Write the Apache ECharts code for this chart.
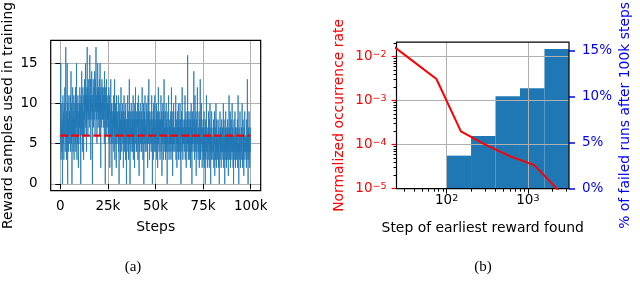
<!DOCTYPE html>
<html><head><meta charset="utf-8">
<script src="https://cdn.jsdelivr.net/npm/echarts@6/dist/echarts.min.js"></script>
<style>html,body{margin:0;padding:0;background:#fff}#c{width:640px;height:296px}</style>
</head><body><div id="c"></div>
<script>
// ---------- (a) reward samples used in training ----------
const stepSize = 125;
const rewardSamples = [
  5,9,15,3,7,6,10,4,8,0,6,11,5,7,9,3,10,6,8,12,
  7,4,10,17,6,8,3,9,5,15,7,0,10,6,8,4,11,7,5,9,
  8,6,11,4,9,14,7,5,10,0,8,6,12,7,4,9,6,11,3,8,
  6,10,5,8,12,4,9,7,15,6,3,10,8,5,11,7,2,9,6,10,
  9,7,12,5,10,8,0,11,6,9,14,7,10,4,8,12,6,9,3,11,
  10,8,13,6,11,9,15,7,12,10,4,11,8,17,9,12,6,10,13,8,
  11,9,7,12,16,10,8,13,3,11,9,12,14,8,10,0,11,9,13,7,
  9,12,10,8,14,11,6,13,9,12,17,10,8,11,5,12,9,15,10,7,
  12,8,11,9,13,6,10,15,8,11,2,12,9,10,7,13,11,8,12,9,
  8,11,7,12,10,5,14,9,11,0,8,12,7,10,13,6,9,11,8,10,
  7,10,6,9,12,5,8,11,2,7,9,6,13,8,5,10,7,1,9,6,
  8,5,10,7,11,4,9,6,13,3,8,7,10,5,9,2,11,6,8,7,
  6,9,5,8,11,4,7,0,9,6,10,5,8,3,7,12,6,9,4,7,
  8,6,10,5,7,2,9,6,11,4,8,7,5,9,3,10,6,8,0,7,
  5,8,6,11,4,7,9,3,8,6,13,5,7,0,9,6,8,4,10,6,
  7,5,9,4,8,6,11,3,7,9,5,8,2,10,6,7,12,5,8,4,
  6,9,4,8,7,10,3,6,11,5,8,1,7,9,4,6,10,7,5,8,
  7,4,9,6,12,5,8,3,7,6,10,0,8,5,9,6,11,4,7,6,
  8,5,7,10,4,9,6,2,8,11,5,7,13,6,9,3,7,8,5,6,
  6,9,4,7,11,5,8,0,7,6,9,3,10,6,8,4,7,11,5,6,
  7,4,8,6,10,3,7,5,9,2,8,6,12,5,7,4,9,6,8,3,
  5,8,6,11,4,7,9,1,6,8,5,10,7,3,9,6,13,5,7,4,
  6,9,3,7,5,10,4,8,6,0,7,5,9,4,8,11,6,3,7,5,
  8,4,7,5,9,3,6,12,5,8,4,7,1,9,6,5,10,4,7,6,
  5,7,4,9,6,11,3,7,5,8,2,6,9,4,7,5,10,3,6,8,
  4,7,6,10,3,8,5,0,7,6,9,4,12,5,7,3,8,6,5,7,
  6,4,8,5,11,3,7,6,9,2,7,5,8,4,6,16,5,9,3,7,
  5,8,4,7,3,9,6,2,8,5,10,4,7,0,6,9,5,8,4,6,
  7,14,5,8,3,6,11,4,7,5,9,1,6,8,4,7,12,5,6,3,
  5,7,4,9,2,6,8,5,13,3,7,4,6,10,5,8,2,6,7,4,
  6,3,8,5,9,2,6,4,7,0,5,8,3,6,11,4,7,5,2,6,
  4,7,5,9,3,6,2,8,5,10,4,6,0,7,5,3,9,4,6,5,
  5,3,7,4,8,2,6,5,9,1,4,7,3,6,10,5,2,8,4,6,
  3,6,4,8,5,2,7,4,0,6,5,9,3,7,4,6,2,5,8,4,
  5,4,7,3,6,10,2,5,8,4,6,0,7,3,5,9,4,6,2,7,
  4,6,3,8,5,7,1,6,4,11,5,3,7,4,9,2,6,5,8,4,
  6,3,10,5,4,7,2,6,0,5,8,4,6,3,9,5,2,7,4,6,
  3,5,7,4,8,2,6,11,4,5,0,7,3,6,4,9,5,2,6,4,
  5,7,3,6,10,4,2,5,8,3,6,1,7,4,5,9,3,6,4,5,
  4,6,2,8,5,3,13,4,6,0,5,7,3,9,4,6,2,5,7,4
];
const meanSamples = 6;
const stepTicks = [0, 25000, 50000, 75000, 100000];
const sampleTicks = [0, 5, 10, 15];

// ---------- (b) earliest reward step ----------
const earliestStep   = [18.75, 37.5, 75, 150, 300, 600, 1200, 2400];
const occurrenceRate = [0.0217, 0.0082, 0.0031, 0.0002, 0.0001, 0.000055, 0.0000343, 0.000009];
const binEdges  = [100, 200, 400, 800, 1600, 3200];
const failedPct = [3.6, 5.73, 10.07, 10.95, 15.2];
const stepMajorTicks = [100, 1000];
const stepMinorTicks = [30,40,50,60,70,80,90,200,300,400,500,600,700,800,900,2000,3000];
const rateMajorTicks = [1e-5, 1e-4, 1e-3, 1e-2];
const rateMinorTicks = [2e-5,3e-5,4e-5,5e-5,6e-5,7e-5,8e-5,9e-5,
                        2e-4,3e-4,4e-4,5e-4,6e-4,7e-4,8e-4,9e-4,
                        2e-3,3e-3,4e-3,5e-3,6e-3,7e-3,8e-3,9e-3,2e-2];
const pctTicks = [0, 5, 10, 15];

const FONT = 'DejaVu Sans';
const FS = 13.5;
const NFS = 13.9;
const GRID = '#b0b0b0';

function pow10Label(color) {
  return {
    formatter: function (v) {
      const e = Math.round(Math.log10(v));
      const s = e < 0 ? '\u2212' + (-e) : String(e);
      return '{b|10}{s|' + s + '}';
    },
    rich: {
      b: { fontSize: FS, fontFamily: FONT, color: color, lineHeight: 14, padding: [5, 0, 0, 0], verticalAlign: 'bottom' },
      s: { fontSize: 9.5, fontFamily: FONT, color: color, lineHeight: 10, verticalAlign: 'top' }
    }
  };
}

const chart = echarts.init(document.getElementById('c'), null, { renderer: 'canvas' });

const barData = failedPct.map((p, i) => [binEdges[i], binEdges[i + 1], p]);

const option = {
  animation: false,
  textStyle: { fontFamily: FONT },
  grid: [
    { left: 50.7, top: 38.7, width: 210, height: 152, show: true, borderColor: '#000', borderWidth: 1.2, z: 8, backgroundColor: 'transparent' },
    { left: 396.5, top: 36.7, width: 172.5, height: 152, show: true, borderColor: '#000', borderWidth: 1.2, z: 8, backgroundColor: 'transparent' }
  ],
  xAxis: [
    {
      type: 'value', gridIndex: 0, min: -5040, max: 105250, position: 'bottom',
      axisLine: { show: false },
      axisTick: { show: true, customValues: stepTicks, length: 5, lineStyle: { color: '#000', width: 1 } },
      axisLabel: { customValues: stepTicks, margin: 9, fontSize: FS, color: '#000', fontFamily: FONT,
        formatter: v => v === 0 ? '0' : (v / 1000) + 'k' },
      splitLine: { show: true, lineStyle: { color: GRID, width: 1 } },
      name: 'Steps', nameLocation: 'middle', nameGap: 30,
      nameTextStyle: { fontSize: NFS, color: '#000', fontFamily: FONT }
    },
    {
      type: 'log', logBase: 10, gridIndex: 1, min: 24.2, max: 3208, z: 5, position: 'bottom', offset: 0,
      axisLine: { show: false },
      axisTick: { show: true, customValues: stepMajorTicks, length: 5, lineStyle: { color: '#000', width: 1 } },
      axisLabel: Object.assign({ customValues: stepMajorTicks, margin: 5, color: '#000' }, pow10Label('#000')),
      splitLine: { show: true, lineStyle: { color: GRID, width: 1 } },
      name: 'Step of earliest reward found', nameLocation: 'middle', nameGap: 33,
      nameTextStyle: { fontSize: NFS, color: '#000', fontFamily: FONT }
    },
    {
      type: 'log', logBase: 10, gridIndex: 1, min: 24.2, max: 3208, position: 'bottom', offset: 0,
      axisLine: { show: false },
      axisTick: { show: true, customValues: stepMinorTicks, length: 3, lineStyle: { color: '#000', width: 1 } },
      axisLabel: { show: false },
      splitLine: { show: false }
    }
  ],
  yAxis: [
    {
      type: 'value', gridIndex: 0, min: -0.85, max: 17.85, position: 'left',
      axisLine: { show: false },
      axisTick: { show: true, customValues: sampleTicks, length: 5, lineStyle: { color: '#000', width: 1 } },
      axisLabel: { customValues: sampleTicks, margin: 13, fontSize: FS, color: '#000', fontFamily: FONT },
      splitLine: { show: true, lineStyle: { color: GRID, width: 1 } },
      name: 'Reward samples used in training', nameLocation: 'middle', nameGap: 35, nameRotate: 90,
      nameTextStyle: { fontSize: NFS, color: '#000', fontFamily: FONT }
    },
    {
      type: 'log', logBase: 10, gridIndex: 1, position: 'left', offset: 0, min: 1e-5, max: 0.0213, z: 5,
      axisLine: { show: false },
      axisTick: { show: true, customValues: rateMajorTicks, length: 5, lineStyle: { color: '#ff0000', width: 1.2 } },
      axisLabel: Object.assign({ customValues: rateMajorTicks, margin: 10, color: '#ff0000' }, pow10Label('#ff0000')),
      splitLine: { show: true, lineStyle: { color: GRID, width: 1 } },
      name: 'Normalized occurrence rate', nameLocation: 'middle', nameGap: 50, nameRotate: 90,
      nameTextStyle: { fontSize: NFS, color: '#ff0000', fontFamily: FONT }
    },
    {
      type: 'value', gridIndex: 1, position: 'right', offset: 0, min: 0, max: 15.96,
      axisLine: { show: false },
      axisTick: { show: true, customValues: pctTicks, length: 6, lineStyle: { color: '#0000ff', width: 1.5 } },
      axisLabel: { customValues: pctTicks, margin: 13, fontSize: FS, color: '#0000ff', fontFamily: FONT, formatter: '{value}%' },
      splitLine: { show: false },
      name: '% of failed runs after 100k steps', nameLocation: 'middle', nameGap: 49, nameRotate: 90,
      nameTextStyle: { fontSize: NFS, color: '#0000ff', fontFamily: FONT }
    },
    {
      type: 'log', logBase: 10, gridIndex: 1, position: 'left', offset: 0, min: 1e-5, max: 0.0213,
      axisLine: { show: false },
      axisTick: { show: true, customValues: rateMinorTicks, length: 3, lineStyle: { color: '#000', width: 1 } },
      axisLabel: { show: false },
      splitLine: { show: false }
    }
  ],
  series: [
    {
      type: 'line', xAxisIndex: 0, yAxisIndex: 0, z: 2,
      data: rewardSamples.map((v, i) => [i * stepSize, v]),
      symbol: 'none', silent: true,
      lineStyle: { color: '#1f77b4', width: 1, opacity: 0.8 }
    },
    {
      type: 'line', xAxisIndex: 0, yAxisIndex: 0, z: 3,
      data: [[0, meanSamples], [(rewardSamples.length - 1) * stepSize, meanSamples]],
      symbol: 'none', silent: true,
      lineStyle: { color: '#ff0000', width: 2.1, type: [7.7, 3.3] }
    },
    {
      type: 'custom', xAxisIndex: 1, yAxisIndex: 2, z: 2,
      data: barData, encode: { x: [0, 1], y: 2 },
      renderItem: function (params, api) {
        const p0 = api.coord([api.value(0), 0]);
        const p1 = api.coord([api.value(1), api.value(2)]);
        return { type: 'rect', shape: { x: p0[0], y: p1[1], width: p1[0] - p0[0], height: p0[1] - p1[1] },
                 style: { fill: '#1f77b4' } };
      }
    },
    {
      type: 'line', xAxisIndex: 1, yAxisIndex: 1, z: 10,
      data: earliestStep.map((s, i) => [s, occurrenceRate[i]]),
      symbol: 'none', silent: true, clip: true,
      lineStyle: { color: '#ff0000', width: 2 }
    }
  ],
  graphic: [
    { type: 'text', x: 133, y: 267, style: { text: '(a)', font: '15px "Liberation Serif"', align: 'center', verticalAlign: 'middle', fill: '#000' } },
    { type: 'text', x: 483, y: 267, style: { text: '(b)', font: '15px "Liberation Serif"', align: 'center', verticalAlign: 'middle', fill: '#000' } }
  ]
};
chart.setOption(option);
</script>
</body></html>
